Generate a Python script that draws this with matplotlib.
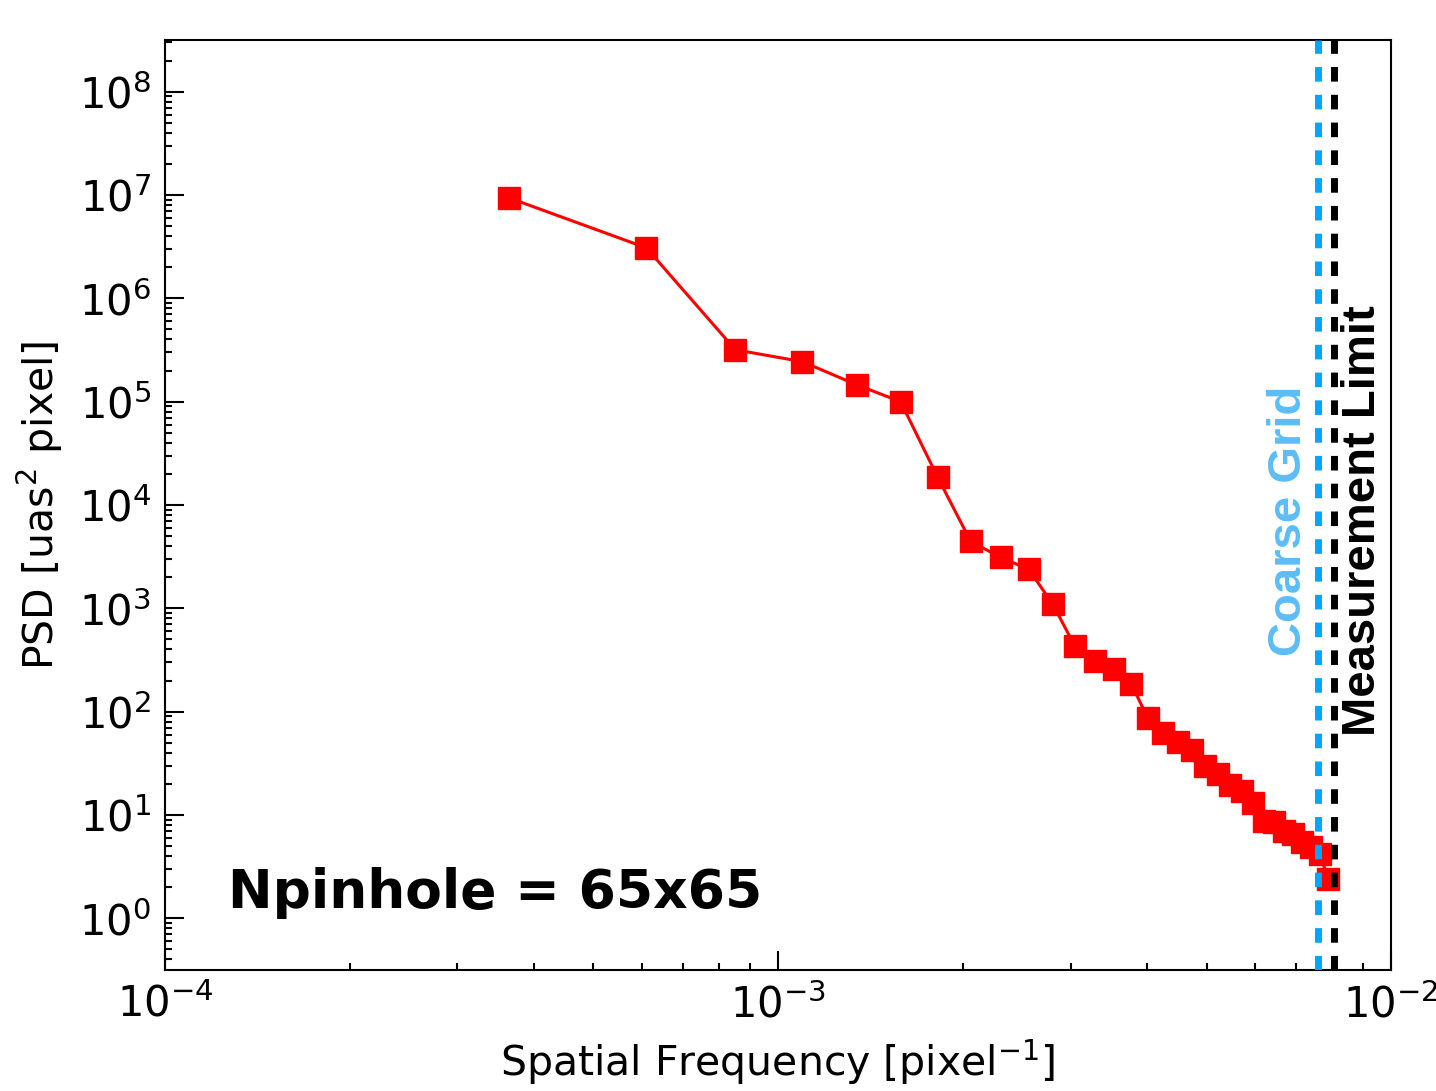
import matplotlib
matplotlib.use('Agg')
import numpy as np
from matplotlib import pyplot as plt

# spatial frequency [pixel^-1] and PSD [uas^2 pixel]
freq = [3.64e-4, 6.10e-4, 8.52e-4, 1.096e-3, 1.343e-3, 1.585e-3, 1.822e-3, 2.062e-3,
        2.308e-3, 2.564e-3, 2.806e-3, 3.05e-3, 3.29e-3, 3.53e-3, 3.77e-3, 4.01e-3,
        4.25e-3, 4.50e-3, 4.74e-3, 4.98e-3, 5.22e-3, 5.47e-3, 5.71e-3, 5.95e-3,
        6.20e-3, 6.44e-3, 6.68e-3, 6.93e-3, 7.17e-3, 7.41e-3, 7.65e-3, 7.90e-3]
psd = [9.4e6, 3.08e6, 3.18e5, 2.44e5, 1.46e5, 1.0e5, 1.85e4, 4.45e3,
       3.11e3, 2.39e3, 1.10e3, 430, 308, 258, 185, 86.9,
       62.2, 50.9, 42.6, 29.9, 25.0, 19.6, 17.1, 13.1,
       8.8, 8.6, 7.0, 6.6, 5.5, 4.9, 4.2, 2.4]

coarse_grid = 7.6e-3
meas_limit = 8.07e-3

fig = plt.figure(figsize=(14.36, 10.91), dpi=100)
ax = fig.add_axes([0.1149, 0.1109, 0.8538, 0.8524])

ax.plot(freq, psd, color='#FF0000', lw=2.2, marker='s', ms=16, zorder=2)

ax.axvline(coarse_grid, color='#00A5FF', lw=5, ls=(0, (2.1, 1.9)), zorder=3)
ax.axvline(meas_limit, color='black', lw=5, ls=(0, (2.1, 1.9)), zorder=3)

ax.set_xscale('log')
ax.set_yscale('log')
ax.set_xlim(1e-4, 1e-2)
ax.set_ylim(10**-0.5, 10**8.5)

ax.set_xlabel('Spatial Frequency [pixel$^{-1}$]', fontsize=29.5, labelpad=8)
ax.set_ylabel('PSD [uas$^2$ pixel]', fontsize=29.5, labelpad=10)

ax.tick_params(which='both', direction='in', top=False, right=False, width=1.5)
ax.tick_params(which='major', length=14, labelsize=30, pad=10)
ax.tick_params(which='minor', length=5)
for s in ax.spines.values():
    s.set_linewidth(1.5)

ax.text(0.917, 0.483, 'Coarse Grid', transform=ax.transAxes, rotation=90,
        ha='center', va='center', fontsize=34, fontweight='bold',
        family='Liberation Sans', color='#5CBDF7')
ax.text(0.977, 0.483, 'Measurement Limit', transform=ax.transAxes, rotation=90,
        ha='center', va='center', fontsize=34, fontweight='bold',
        family='Liberation Sans', color='black')

ax.text(0.0514, 0.083, 'Npinhole = 65x65', transform=ax.transAxes,
        ha='left', va='center', fontsize=38.5, fontweight='bold', color='black')

fig.savefig('out.png', dpi=100)
